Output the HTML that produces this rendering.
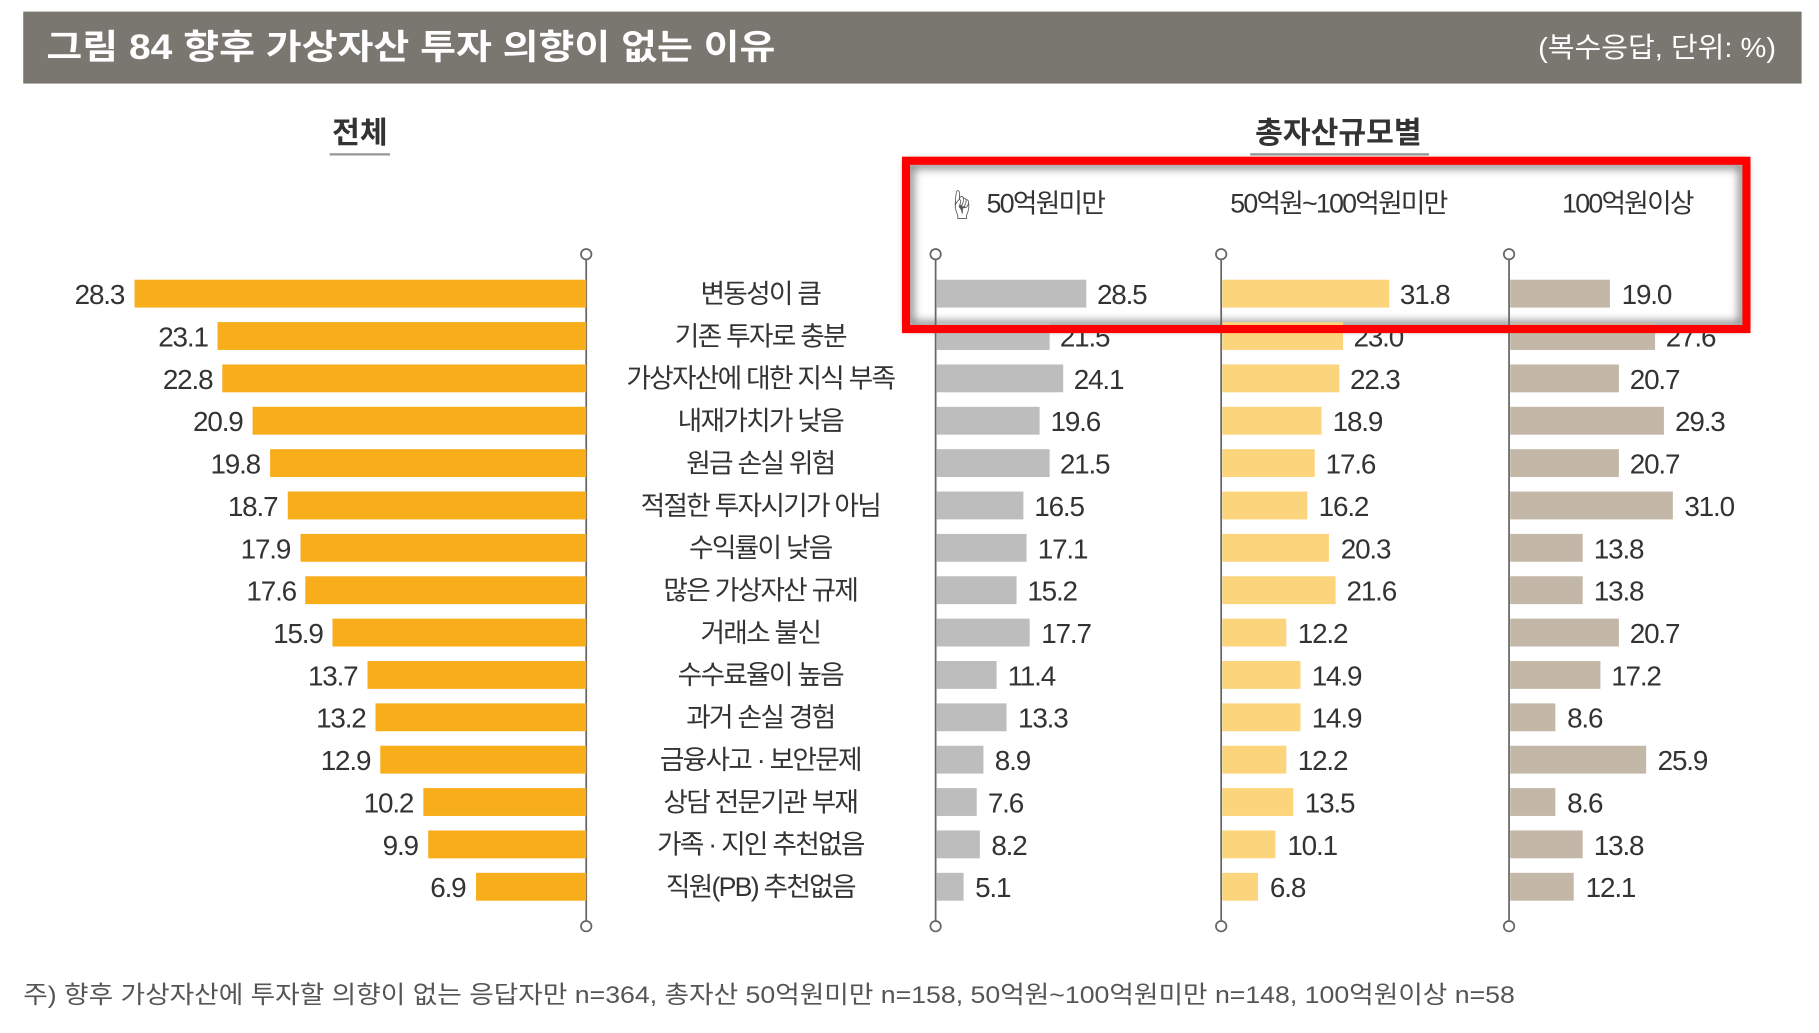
<!DOCTYPE html>
<html><head><meta charset="utf-8"><style>
html,body{margin:0;padding:0;background:#fff;}
svg{display:block;}
text{font-family:"Liberation Sans","Noto Sans CJK KR",sans-serif;fill:#333;}
.v{font-size:24px;letter-spacing:-1px;}
.l{font-size:23px;letter-spacing:-1.5px;text-anchor:middle;}
.o{fill:#F8AD1B}.g1{fill:#BDBDBD}.g2{fill:#FCD47C}.g3{fill:#C3B7A7}
</style></head><body>
<svg width="1819" height="1033" viewBox="0 0 1567 890" preserveAspectRatio="none">
<defs><filter id="sh" x="-5%" y="-20%" width="110%" height="140%"><feGaussianBlur stdDeviation="4"/></filter></defs>
<rect x="20" y="10" width="1532" height="62" fill="#7A7670"/>
<text x="40" y="51" style="font-size:30px;fill:#fff;font-weight:bold" textLength="628" lengthAdjust="spacingAndGlyphs">그림 84  향후 가상자산 투자 의향이 없는 이유</text>
<text x="1530" y="49" style="font-size:24px;fill:#fff;text-anchor:end" textLength="205" lengthAdjust="spacingAndGlyphs">(복수응답, 단위: %)</text>
<text x="310" y="123" style="font-size:26px;font-weight:bold;text-anchor:middle">전체</text>
<rect x="284" y="132" width="52" height="2" fill="#999"/>
<text x="1153" y="123" style="font-size:26px;font-weight:bold;text-anchor:middle">총자산규모별</text>
<rect x="1077" y="132" width="154" height="2" fill="#999"/>
<rect x="784" y="142" width="717" height="138" fill="none" stroke="#777" stroke-width="6" filter="url(#sh)"/>
<text x="850" y="183" style="font-size:23px;letter-spacing:-1.5px">50억원미만</text>
<text x="1153" y="183" style="font-size:23px;letter-spacing:-1.5px;text-anchor:middle">50억원~100억원미만</text>
<text x="1402" y="183" style="font-size:23px;letter-spacing:-1.5px;text-anchor:middle">100억원이상</text>
<text x="815" y="186" style="font-size:26px;fill:#555">☝</text>
<g stroke="#666" stroke-width="1.5" fill="#fff">
<line x1="505" y1="223" x2="505" y2="793"/><line x1="806" y1="223" x2="806" y2="793"/><line x1="1052" y1="223" x2="1052" y2="793"/><line x1="1300" y1="223" x2="1300" y2="793"/>
<circle cx="505" cy="219" r="4.5"/><circle cx="806" cy="219" r="4.5"/><circle cx="1052" cy="219" r="4.5"/><circle cx="1300" cy="219" r="4.5"/>
<circle cx="505" cy="798" r="4.5"/><circle cx="806" cy="798" r="4.5"/><circle cx="1052" cy="798" r="4.5"/><circle cx="1300" cy="798" r="4.5"/>
</g>
<g transform="translate(0,253)"><rect class="o" x="115.9" y="-12" width="389.1" height="24"/><text class="v" x="107" y="9" text-anchor="end">28.3</text><text class="l" x="655" y="8">변동성이 큼</text><rect class="g1" x="807" y="-12" width="128.8" height="24"/><text class="v" x="945" y="9">28.5</text><rect class="g2" x="1053" y="-12" width="143.7" height="24"/><text class="v" x="1206" y="9">31.8</text><rect class="g3" x="1301" y="-12" width="85.9" height="24"/><text class="v" x="1397" y="9">19.0</text></g>
<g transform="translate(0,289.5)"><rect class="o" x="187.4" y="-12" width="317.6" height="24"/><text class="v" x="179" y="9" text-anchor="end">23.1</text><text class="l" x="655" y="8">기존 투자로 충분</text><rect class="g1" x="807" y="-12" width="97.2" height="24"/><text class="v" x="913" y="9">21.5</text><rect class="g2" x="1053" y="-12" width="104" height="24"/><text class="v" x="1166" y="9">23.0</text><rect class="g3" x="1301" y="-12" width="124.8" height="24"/><text class="v" x="1435" y="9">27.6</text></g>
<g transform="translate(0,326)"><rect class="o" x="191.5" y="-12" width="313.5" height="24"/><text class="v" x="183" y="9" text-anchor="end">22.8</text><text class="l" x="655" y="8">가상자산에 대한 지식 부족</text><rect class="g1" x="807" y="-12" width="108.9" height="24"/><text class="v" x="925" y="9">24.1</text><rect class="g2" x="1053" y="-12" width="100.8" height="24"/><text class="v" x="1163" y="9">22.3</text><rect class="g3" x="1301" y="-12" width="93.6" height="24"/><text class="v" x="1404" y="9">20.7</text></g>
<g transform="translate(0,362.5)"><rect class="o" x="217.6" y="-12" width="287.4" height="24"/><text class="v" x="209" y="9" text-anchor="end">20.9</text><text class="l" x="655" y="8">내재가치가 낮음</text><rect class="g1" x="807" y="-12" width="88.6" height="24"/><text class="v" x="905" y="9">19.6</text><rect class="g2" x="1053" y="-12" width="85.4" height="24"/><text class="v" x="1148" y="9">18.9</text><rect class="g3" x="1301" y="-12" width="132.4" height="24"/><text class="v" x="1443" y="9">29.3</text></g>
<g transform="translate(0,399)"><rect class="o" x="232.7" y="-12" width="272.3" height="24"/><text class="v" x="224" y="9" text-anchor="end">19.8</text><text class="l" x="655" y="8">원금 손실 위험</text><rect class="g1" x="807" y="-12" width="97.2" height="24"/><text class="v" x="913" y="9">21.5</text><rect class="g2" x="1053" y="-12" width="79.6" height="24"/><text class="v" x="1142" y="9">17.6</text><rect class="g3" x="1301" y="-12" width="93.6" height="24"/><text class="v" x="1404" y="9">20.7</text></g>
<g transform="translate(0,435.5)"><rect class="o" x="247.9" y="-12" width="257.1" height="24"/><text class="v" x="239" y="9" text-anchor="end">18.7</text><text class="l" x="655" y="8">적절한 투자시기가 아님</text><rect class="g1" x="807" y="-12" width="74.6" height="24"/><text class="v" x="891" y="9">16.5</text><rect class="g2" x="1053" y="-12" width="73.2" height="24"/><text class="v" x="1136" y="9">16.2</text><rect class="g3" x="1301" y="-12" width="140.1" height="24"/><text class="v" x="1451" y="9">31.0</text></g>
<g transform="translate(0,472)"><rect class="o" x="258.9" y="-12" width="246.1" height="24"/><text class="v" x="250" y="9" text-anchor="end">17.9</text><text class="l" x="655" y="8">수익률이 낮음</text><rect class="g1" x="807" y="-12" width="77.3" height="24"/><text class="v" x="894" y="9">17.1</text><rect class="g2" x="1053" y="-12" width="91.8" height="24"/><text class="v" x="1155" y="9">20.3</text><rect class="g3" x="1301" y="-12" width="62.4" height="24"/><text class="v" x="1373" y="9">13.8</text></g>
<g transform="translate(0,508.5)"><rect class="o" x="263" y="-12" width="242" height="24"/><text class="v" x="255" y="9" text-anchor="end">17.6</text><text class="l" x="655" y="8">많은 가상자산 규제</text><rect class="g1" x="807" y="-12" width="68.7" height="24"/><text class="v" x="885" y="9">15.2</text><rect class="g2" x="1053" y="-12" width="97.6" height="24"/><text class="v" x="1160" y="9">21.6</text><rect class="g3" x="1301" y="-12" width="62.4" height="24"/><text class="v" x="1373" y="9">13.8</text></g>
<g transform="translate(0,545)"><rect class="o" x="286.4" y="-12" width="218.6" height="24"/><text class="v" x="278" y="9" text-anchor="end">15.9</text><text class="l" x="655" y="8">거래소 불신</text><rect class="g1" x="807" y="-12" width="80" height="24"/><text class="v" x="897" y="9">17.7</text><rect class="g2" x="1053" y="-12" width="55.1" height="24"/><text class="v" x="1118" y="9">12.2</text><rect class="g3" x="1301" y="-12" width="93.6" height="24"/><text class="v" x="1404" y="9">20.7</text></g>
<g transform="translate(0,581.5)"><rect class="o" x="316.6" y="-12" width="188.4" height="24"/><text class="v" x="308" y="9" text-anchor="end">13.7</text><text class="l" x="655" y="8">수수료율이 높음</text><rect class="g1" x="807" y="-12" width="51.5" height="24"/><text class="v" x="868" y="9">11.4</text><rect class="g2" x="1053" y="-12" width="67.3" height="24"/><text class="v" x="1130" y="9">14.9</text><rect class="g3" x="1301" y="-12" width="77.7" height="24"/><text class="v" x="1388" y="9">17.2</text></g>
<g transform="translate(0,618)"><rect class="o" x="323.5" y="-12" width="181.5" height="24"/><text class="v" x="315" y="9" text-anchor="end">13.2</text><text class="l" x="655" y="8">과거 손실 경험</text><rect class="g1" x="807" y="-12" width="60.1" height="24"/><text class="v" x="877" y="9">13.3</text><rect class="g2" x="1053" y="-12" width="67.3" height="24"/><text class="v" x="1130" y="9">14.9</text><rect class="g3" x="1301" y="-12" width="38.9" height="24"/><text class="v" x="1350" y="9">8.6</text></g>
<g transform="translate(0,654.5)"><rect class="o" x="327.6" y="-12" width="177.4" height="24"/><text class="v" x="319" y="9" text-anchor="end">12.9</text><text class="l" x="655" y="8">금융사고 · 보안문제</text><rect class="g1" x="807" y="-12" width="40.2" height="24"/><text class="v" x="857" y="9">8.9</text><rect class="g2" x="1053" y="-12" width="55.1" height="24"/><text class="v" x="1118" y="9">12.2</text><rect class="g3" x="1301" y="-12" width="117.1" height="24"/><text class="v" x="1428" y="9">25.9</text></g>
<g transform="translate(0,691)"><rect class="o" x="364.7" y="-12" width="140.3" height="24"/><text class="v" x="356" y="9" text-anchor="end">10.2</text><text class="l" x="655" y="8">상담 전문기관 부재</text><rect class="g1" x="807" y="-12" width="34.4" height="24"/><text class="v" x="851" y="9">7.6</text><rect class="g2" x="1053" y="-12" width="61" height="24"/><text class="v" x="1124" y="9">13.5</text><rect class="g3" x="1301" y="-12" width="38.9" height="24"/><text class="v" x="1350" y="9">8.6</text></g>
<g transform="translate(0,727.5)"><rect class="o" x="368.9" y="-12" width="136.1" height="24"/><text class="v" x="360" y="9" text-anchor="end">9.9</text><text class="l" x="655" y="8">가족 · 지인 추천없음</text><rect class="g1" x="807" y="-12" width="37.1" height="24"/><text class="v" x="854" y="9">8.2</text><rect class="g2" x="1053" y="-12" width="45.7" height="24"/><text class="v" x="1109" y="9">10.1</text><rect class="g3" x="1301" y="-12" width="62.4" height="24"/><text class="v" x="1373" y="9">13.8</text></g>
<g transform="translate(0,764)"><rect class="o" x="410.1" y="-12" width="94.9" height="24"/><text class="v" x="401" y="9" text-anchor="end">6.9</text><text class="l" x="655" y="8">직원(PB) 추천없음</text><rect class="g1" x="807" y="-12" width="23.1" height="24"/><text class="v" x="840" y="9">5.1</text><rect class="g2" x="1053" y="-12" width="30.7" height="24"/><text class="v" x="1094" y="9">6.8</text><rect class="g3" x="1301" y="-12" width="54.7" height="24"/><text class="v" x="1366" y="9">12.1</text></g>
<rect x="780.5" y="138.5" width="724" height="145" fill="none" stroke="#FF0000" stroke-width="7"/>
<text x="20" y="864" style="font-size:21px;fill:#555" textLength="1285" lengthAdjust="spacingAndGlyphs">주) 향후 가상자산에 투자할 의향이 없는 응답자만 n=364, 총자산 50억원미만 n=158, 50억원~100억원미만 n=148, 100억원이상 n=58</text>
</svg>
</body></html>
